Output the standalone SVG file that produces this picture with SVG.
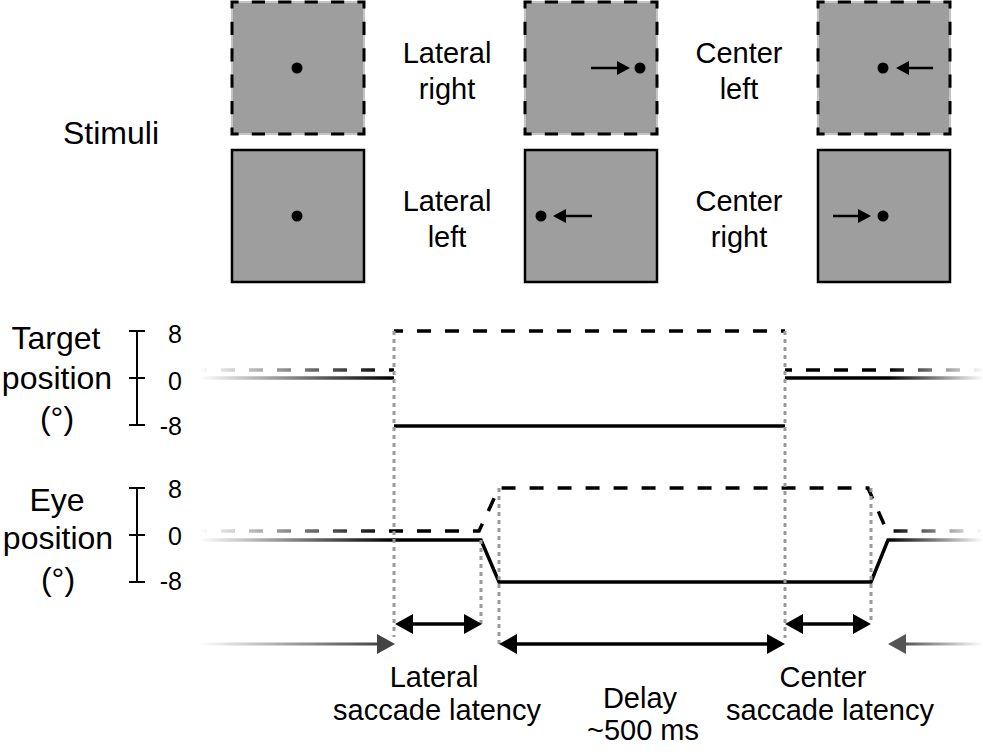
<svg xmlns="http://www.w3.org/2000/svg" width="983" height="756" viewBox="0 0 983 756">
<style>
.lbl{font-family:"Liberation Sans",Arial,Helvetica,sans-serif;font-size:29px;fill:#000;text-anchor:middle}
.big{font-size:32px}
.tk{font-family:"Liberation Sans",Arial,Helvetica,sans-serif;font-size:25px;fill:#000;text-anchor:end}
.sq{fill:#9e9e9e}
.sqs{stroke:#000;stroke-width:2.5}
.sqe{stroke:#c4c4c4;stroke-width:2}
.sqd{fill:none;stroke:#000;stroke-width:3;stroke-dasharray:13.2 13.2;stroke-dashoffset:6.6}
.sar{stroke:#000;stroke-width:2.5;fill:none}
.axis{stroke:#000;stroke-width:2;fill:none}
.tr{fill:none;stroke:url(#fade);stroke-width:3.5}
.da{stroke-dasharray:14 14}
.gd{stroke:#9a9a9a;stroke-width:3;stroke-dasharray:4 4;fill:none}
.ar{stroke:#000;stroke-width:3.5;fill:none}
</style>
<defs>
<linearGradient id="fade" gradientUnits="userSpaceOnUse" x1="199" y1="0" x2="983" y2="0">
<stop offset="0" stop-color="#fff"/>
<stop offset="0.249" stop-color="#000"/>
<stop offset="0.879" stop-color="#000"/>
<stop offset="1" stop-color="#fff"/>
</linearGradient>
<linearGradient id="arrL" gradientUnits="userSpaceOnUse" x1="199" y1="0" x2="380" y2="0">
<stop offset="0" stop-color="#fff"/>
<stop offset="1" stop-color="#444"/>
</linearGradient>
<linearGradient id="arrR" gradientUnits="userSpaceOnUse" x1="983" y1="0" x2="905" y2="0">
<stop offset="0" stop-color="#fff"/>
<stop offset="1" stop-color="#555"/>
</linearGradient>
</defs>
<rect width="983" height="756" fill="#fff"/>

<g id="stimuli-label"><text class="lbl big" x="111" y="144">Stimuli</text></g>

<g id="stim-fix-top">
<rect class="sq sqe" x="232" y="2" width="132" height="132"/>
<rect class="sqd" x="232" y="2" width="132" height="132"/>
<circle cx="297" cy="68" r="5.5"/>
</g>
<g id="stim-lateral-right">
<rect class="sq sqe" x="525" y="2" width="132" height="132"/>
<rect class="sqd" x="525" y="2" width="132" height="132"/>
<line class="sar" x1="591" y1="68" x2="620" y2="68"/>
<polygon points="617,61 630,68 617,75"/>
<circle cx="640" cy="68" r="5.5"/>
</g>
<g id="stim-center-left">
<rect class="sq sqe" x="818" y="2" width="132" height="132"/>
<rect class="sqd" x="818" y="2" width="132" height="132"/>
<line class="sar" x1="933" y1="68" x2="905" y2="68"/>
<polygon points="909,61 896,68 909,75"/>
<circle cx="883" cy="68" r="5.5"/>
</g>
<g id="stim-fix-bottom">
<rect class="sq sqs" x="232" y="150" width="132" height="132"/>
<circle cx="297" cy="216" r="5.5"/>
</g>
<g id="stim-lateral-left">
<rect class="sq sqs" x="525" y="150" width="132" height="132"/>
<line class="sar" x1="592" y1="216" x2="562" y2="216"/>
<polygon points="566,209 553,216 566,223"/>
<circle cx="541" cy="216" r="5.5"/>
</g>
<g id="stim-center-right">
<rect class="sq sqs" x="818" y="150" width="132" height="132"/>
<line class="sar" x1="833" y1="216" x2="862" y2="216"/>
<polygon points="858,209 871,216 858,223"/>
<circle cx="883" cy="216" r="5.5"/>
</g>

<g id="stim-labels">
<text class="lbl" x="447" y="63">Lateral</text>
<text class="lbl" x="447" y="99">right</text>
<text class="lbl" x="739" y="63">Center</text>
<text class="lbl" x="739" y="99">left</text>
<text class="lbl" x="447" y="211">Lateral</text>
<text class="lbl" x="447" y="247">left</text>
<text class="lbl" x="739" y="211">Center</text>
<text class="lbl" x="739" y="247">right</text>
</g>

<g id="target-axis">
<text class="lbl big" x="56" y="349">Target</text>
<text class="lbl big" x="57" y="389">position</text>
<text class="lbl big" x="57" y="429">(°)</text>
<path class="axis" d="M137,331 V425 M129,331 H145 M129,378 H145 M129,425 H145"/>
<text class="tk" x="182" y="343">8</text>
<text class="tk" x="182" y="390">0</text>
<text class="tk" x="182" y="435">-8</text>
</g>
<g id="eye-axis">
<text class="lbl big" x="57" y="511">Eye</text>
<text class="lbl big" x="58" y="549">position</text>
<text class="lbl big" x="58" y="590">(°)</text>
<path class="axis" d="M137,488 V582 M129,488 H145 M129,535 H145 M129,582 H145"/>
<text class="tk" x="182" y="498">8</text>
<text class="tk" x="182" y="545">0</text>
<text class="tk" x="182" y="590">-8</text>
</g>

<g id="target-traces">
<path class="tr da" d="M193,370 H394" />
<path class="tr da" d="M394,331 H785" style="stroke-dashoffset:5"/>
<path class="tr da" d="M785,370 H983" style="stroke-dashoffset:7"/>
<path class="tr" d="M199,378 H394"/>
<path class="tr" d="M394,426 H785"/>
<path class="tr" d="M785,378 H983"/>
</g>
<g id="eye-traces">
<path class="tr da" d="M193,531 H479 L499,488 H868 L887,531 H983"/>
<path class="tr" d="M199,540 H481 L499,582 H871 L888,540 H983"/>
</g>

<g id="connectors">
<path class="gd" d="M394,331 V637"/>
<path class="gd" d="M481,540 V624"/>
<path class="gd" d="M499,488 V645"/>
<path class="gd" d="M785,331 V638"/>
<path class="gd" d="M871,488 V624"/>

<line x1="199" y1="644" x2="380" y2="644" stroke="url(#arrL)" stroke-width="3"/>
<polygon points="377,634 395,644 377,654" fill="#444"/>
<line x1="983" y1="644" x2="903" y2="644" stroke="url(#arrR)" stroke-width="3"/>
<polygon points="906,634 888,644 906,654" fill="#555"/>

<line class="ar" x1="410" y1="624" x2="467" y2="624"/>
<polygon points="395,624 413,614 413,634"/>
<polygon points="482,624 464,614 464,634"/>

<line class="ar" x1="514" y1="644" x2="770" y2="644"/>
<polygon points="499,644 517,634 517,654"/>
<polygon points="785,644 767,634 767,654"/>

<line class="ar" x1="800" y1="624" x2="856" y2="624"/>
<polygon points="785,624 803,614 803,634"/>
<polygon points="871,624 853,614 853,634"/>
</g>

<g id="interval-labels">
<text class="lbl" x="434" y="687">Lateral</text>
<text class="lbl" x="437" y="720">saccade latency</text>
<text class="lbl" x="640" y="708">Delay</text>
<text class="lbl" x="643" y="740">~500 ms</text>
<text class="lbl" x="823" y="687">Center</text>
<text class="lbl" x="830" y="720">saccade latency</text>
</g>
</svg>
